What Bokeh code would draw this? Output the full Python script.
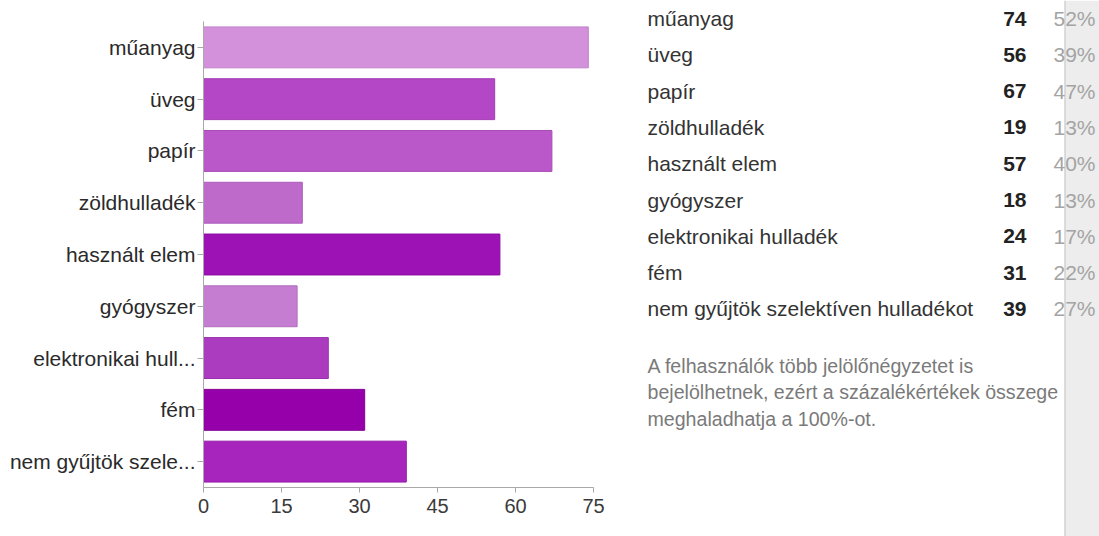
from bokeh.plotting import figure
from bokeh.layouts import row, column
from bokeh.models import ColumnDataSource, FactorRange, Range1d, FixedTicker
from bokeh.core.properties import value
from bokeh.embed import file_html
from bokeh.resources import INLINE

categories = ["műanyag", "üveg", "papír", "zöldhulladék", "használt elem",
              "gyógyszer", "elektronikai hulladék", "fém",
              "nem gyűjtök szelektíven hulladékot"]
tick_labels = ["műanyag", "üveg", "papír", "zöldhulladék", "használt elem",
               "gyógyszer", "elektronikai hull...", "fém", "nem gyűjtök szele..."]
counts = [74, 56, 67, 19, 57, 18, 24, 31, 39]
percents = ["52%", "39%", "47%", "13%", "40%", "13%", "17%", "22%", "27%"]
x_ticks = [0, 15, 30, 45, 60, 75]
bar_colors = ["#D291DA", "#B347C5", "#BA58C9", "#BD6ACB", "#9D12B5",
              "#C47DD1", "#AB3CC0", "#9500AA", "#A725BD"]
bar_edges = ["#C07FC8", "#A33BB5", "#A94BB8", "#AC5BBB", "#8A0AA0",
             "#B26CBF", "#9A30AE", "#830096", "#951BAA"]
note_lines = ["A felhasználók több jelölőnégyzetet is",
              "bejelölhetnek, ezért a százalékértékek összege",
              "meghaladhatja a 100%-ot."]

FONT = "Liberation Sans"
H = 536

# ---------------- left: bar chart ----------------
src = ColumnDataSource(dict(cat=tick_labels, val=counts, color=bar_colors, edge=bar_edges))

p = figure(width=620, height=H, output_backend="svg", toolbar_location=None,
           y_range=FactorRange(factors=list(reversed(tick_labels))),
           x_range=Range1d(0, 75),
           min_border_left=203, min_border_right=27,
           min_border_top=21, min_border_bottom=49)
p.hbar(y="cat", right="val", left=0, height=0.79, source=src,
       fill_color="color", line_color="edge", line_width=1)

p.outline_line_color = None
p.xgrid.grid_line_color = None
p.ygrid.grid_line_color = None
p.background_fill_color = "white"
p.border_fill_color = "white"

p.xaxis.ticker = FixedTicker(ticks=x_ticks)
p.xaxis.minor_tick_line_color = None
p.xaxis.major_tick_out = 5
p.xaxis.major_tick_in = 0
p.xaxis.axis_line_color = "#A8A8A8"
p.xaxis.major_tick_line_color = "#A8A8A8"
p.xaxis.major_label_text_font = FONT
p.xaxis.major_label_text_font_size = "20px"
p.xaxis.major_label_text_color = "#3A3A3A"
p.xaxis.major_label_standoff = 6

p.yaxis.major_tick_out = 6
p.yaxis.major_tick_in = 0
p.yaxis.axis_line_color = "#A8A8A8"
p.yaxis.major_tick_line_color = "#A8A8A8"
p.yaxis.major_label_text_font = FONT
p.yaxis.major_label_text_font_size = "21px"
p.yaxis.major_label_text_color = "#2A2A2A"
p.yaxis.major_label_standoff = 2

# ---------------- right: table ----------------
W = 479
t = figure(width=W, height=H, output_backend="svg", toolbar_location=None,
           x_range=Range1d(0, W), y_range=Range1d(H, 0),
           min_border=0, min_border_left=0, min_border_right=0,
           min_border_top=0, min_border_bottom=0)
t.axis.visible = False
t.grid.visible = False
t.outline_line_color = None
t.background_fill_color = "white"
t.border_fill_color = "white"

# side panel
t.quad(left=[444], right=[W], top=[0], bottom=[H], fill_color="#EDEDED", line_color=None)
t.segment(x0=[444.5], y0=[0], x1=[444.5], y1=[H], line_color="#C4C4C4", line_width=1)

row_y = [18 + 36.3 * i for i in range(len(categories))]
tsrc = ColumnDataSource(dict(y=row_y, cat=categories, cnt=[str(c) for c in counts], pct=percents))
t.text(x=27, y="y", text="cat", source=tsrc, text_font=value(FONT),
       text_font_size="21px", text_color="#333333", text_baseline="middle", text_align="left")
t.text(x=406, y="y", text="cnt", source=tsrc, text_font=value(FONT),
       text_font_size="21px", text_font_style="bold", text_color="#222222",
       text_baseline="middle", text_align="right")
t.text(x=475, y="y", text="pct", source=tsrc, text_font=value(FONT),
       text_font_size="21px", text_color="#A4A4A4", text_baseline="middle", text_align="right")

note_y = [365 + 26.5 * i for i in range(len(note_lines))]
t.text(x=27, y=note_y, text=note_lines, text_font=value(FONT),
       text_font_size="19.6px", text_color="#7A7A7A", text_baseline="middle", text_align="left")

layout = row(p, column(t))
open("out.html", "w").write(file_html(layout, INLINE))
